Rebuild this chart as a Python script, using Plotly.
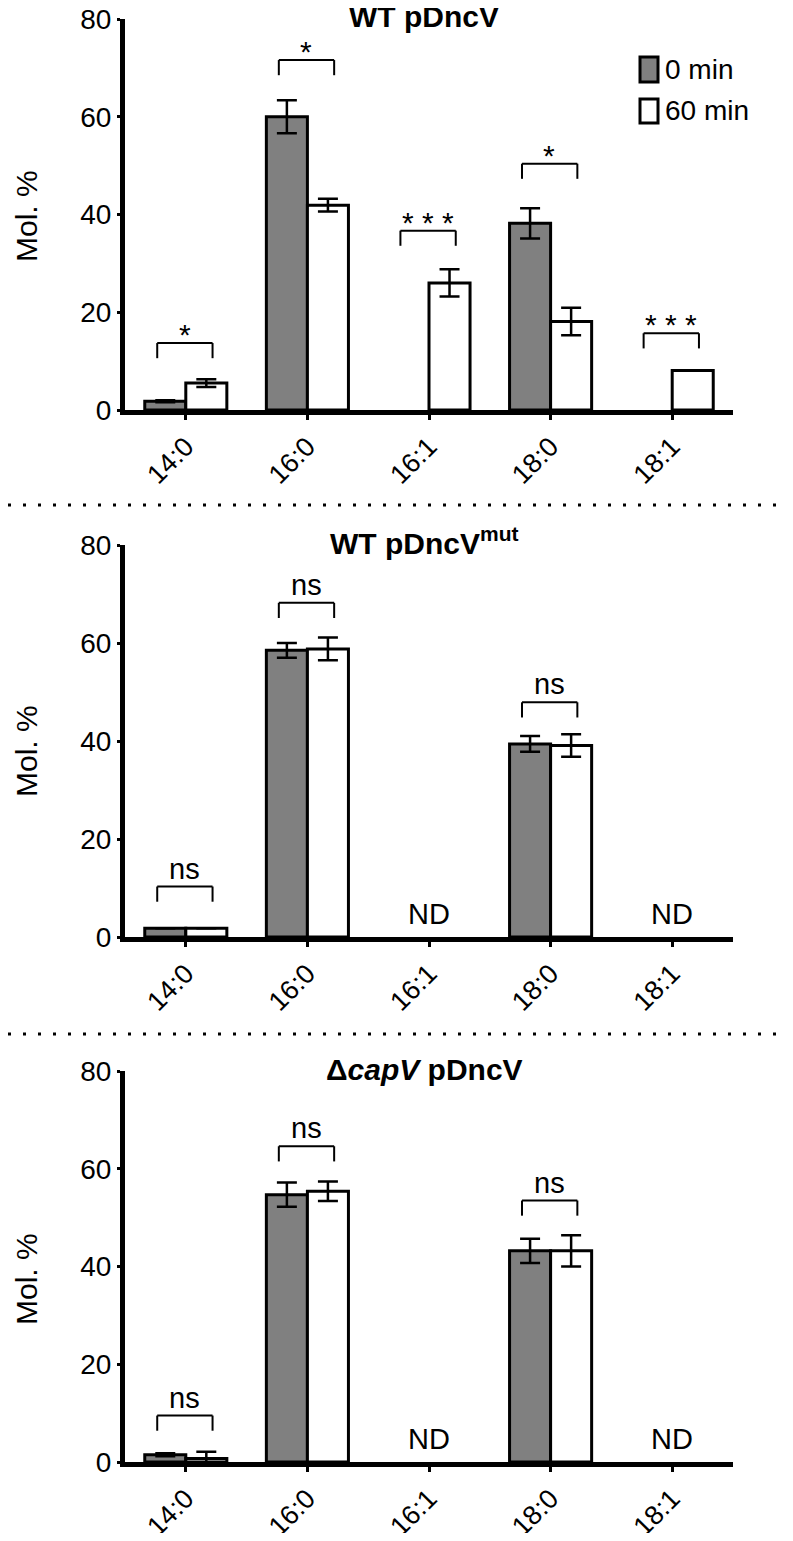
import plotly.graph_objects as go

# ---------------- data ----------------
categories = ["14:0", "16:0", "16:1", "18:0", "18:1"]
series_names = ["0 min", "60 min"]

# Panel 1: WT pDncV
p1_0min = [1.8, 60.0, None, 38.2, None]
p1_0min_err = [0.2, 3.4, None, 3.1, None]
p1_60min = [5.5, 41.9, 26.0, 18.1, 8.1]
p1_60min_err = [0.8, 1.3, 2.8, 2.8, 0]
p1_sig_top = [13.7, 71.6, 36.7, 50.4, 15.7]
p1_sig_text = ["*", "*", "* * *", "*", "* * *"]
p1_nd = [None, None, None, None, None]

# Panel 2: WT pDncV(mut)
p2_0min = [1.8, 58.5, None, 39.4, None]
p2_0min_err = [0, 1.5, None, 1.6, None]
p2_60min = [1.8, 58.8, None, 39.1, None]
p2_60min_err = [0, 2.3, None, 2.3, None]
p2_sig_top = [10.3, 68.2, None, 47.9, None]
p2_sig_text = ["ns", "ns", None, "ns", None]
p2_nd = [None, None, "ND", None, "ND"]

# Panel 3: delta capV pDncV
p3_0min = [1.5, 54.7, None, 43.2, None]
p3_0min_err = [0.3, 2.5, None, 2.5, None]
p3_60min = [0.7, 55.4, None, 43.2, None]
p3_60min_err = [1.4, 2.0, None, 3.2, None]
p3_sig_top = [9.5, 64.6, None, 53.5, None]
p3_sig_text = ["ns", "ns", None, "ns", None]
p3_nd = [None, None, "ND", None, "ND"]

titles = ["<b>WT pDncV</b>", "<b>WT pDncV<sup>mut</sup></b>", "<b>Δ<i>capV</i> pDncV</b>"]
y_ticks = [0, 20, 40, 60, 80]
y_label = "Mol. %"

# ---------------- layout helpers ----------------
# the page body has an 8px margin, so the figure is 16px smaller than the window
OFF = 8
W, H = 793 - 2 * OFF, 1541 - 2 * OFF
FONT = "Arial, Liberation Sans, Helvetica, sans-serif"
GRAY = "#808080"


def px_x(px):
    return (px - OFF) / W


def px_y(px):
    return 1 - (px - OFF) / H


# window-pixel geometry of the three panels (top = value 80, bottom = value 0)
panel_px = [(19, 410), (545, 937), (1071, 1462)]
title_px_y = [17, 541, 1069]
ylabel_px_y = [216, 751, 1279]
x_dom = [px_x(125), px_x(733)]

panels = [
    (p1_0min, p1_0min_err, p1_60min, p1_60min_err, p1_sig_top, p1_sig_text, p1_nd),
    (p2_0min, p2_0min_err, p2_60min, p2_60min_err, p2_sig_top, p2_sig_text, p2_nd),
    (p3_0min, p3_0min_err, p3_60min, p3_60min_err, p3_sig_top, p3_sig_text, p3_nd),
]

fig = go.Figure()
shapes = []
annotations = []

for i, (v0, e0, v60, e60, sig_top, sig_text, nd) in enumerate(panels):
    n = "" if i == 0 else str(i + 1)
    xa, ya = "x" + n, "y" + n
    for vals, errs, fill, name in [(v0, e0, GRAY, series_names[0]), (v60, e60, "white", series_names[1])]:
        fig.add_trace(go.Bar(
            x=categories, y=vals, name=name, xaxis=xa, yaxis=ya,
            marker=dict(color=fill, line=dict(color="black", width=3)),
            error_y=dict(type="data", array=errs, color="black", thickness=2.5, width=10),
            showlegend=False,
        ))
    top, bot = panel_px[i]
    fig.layout["xaxis" + n] = dict(
        domain=x_dom, anchor=ya, type="category", categoryorder="array", categoryarray=categories,
        range=[-0.5, 4.5], showline=True, linewidth=5, linecolor="black", showgrid=False,
        zeroline=False, ticks="outside", ticklen=5, tickwidth=3, tickcolor="black",
        tickangle=-45, tickfont=dict(family=FONT, size=27, color="black"), automargin=False,
        ticklabeloverflow="allow",
    )
    fig.layout["yaxis" + n] = dict(
        domain=[px_y(bot), px_y(top)], anchor=xa, range=[0, 80], tickvals=y_ticks,
        showline=True, linewidth=5, linecolor="black", showgrid=False, zeroline=False,
        ticks="outside", ticklen=3, tickwidth=3, tickcolor="black",
        tickfont=dict(family=FONT, size=28, color="black"), automargin=False,
        ticklabeloverflow="allow",
    )
    # significance brackets and labels
    for c, (h, t) in enumerate(zip(sig_top, sig_text)):
        if h is None:
            continue
        xl, xr = c - 0.235, c + 0.22
        leg = 3.1
        for (x0, y0, x1, y1) in [(xl, h - leg, xl, h), (xl, h, xr, h), (xr, h, xr, h - leg)]:
            shapes.append(dict(type="line", xref=xa, yref=ya, x0=x0, y0=y0, x1=x1, y1=y1,
                               line=dict(color="black", width=2)))
        is_star = "*" in t
        annotations.append(dict(
            x=c - 0.01, y=h, xref=xa, yref=ya, text=t, showarrow=False,
            yanchor="bottom", yshift=-10 if is_star else 0,
            font=dict(family=FONT, size=30 if is_star else 29, color="black"),
        ))
    for c, t in enumerate(nd):
        if t is None:
            continue
        annotations.append(dict(
            x=c, y=0, xref=xa, yref=ya, text=t, showarrow=False, yanchor="bottom", yshift=5,
            font=dict(family=FONT, size=29, color="black"),
        ))
    # panel title
    annotations.append(dict(
        x=px_x(424), y=px_y(title_px_y[i]), xref="paper", yref="paper", text=titles[i],
        showarrow=False, xanchor="center", yanchor="middle",
        font=dict(family=FONT, size=30, color="black"),
    ))
    # y-axis label
    annotations.append(dict(
        x=px_x(26), y=px_y(ylabel_px_y[i]), xref="paper", yref="paper", text=y_label,
        showarrow=False, textangle=-90, xanchor="center", yanchor="middle",
        font=dict(family=FONT, size=30, color="black"),
    ))

# dotted separators between panels
for sep in [505, 1034]:
    shapes.append(dict(type="line", xref="paper", yref="paper", x0=0, x1=1,
                       y0=px_y(sep), y1=px_y(sep),
                       line=dict(color="black", width=3, dash="3px,12px")))

# legend (top right of first panel)
legend_items = [(series_names[0], GRAY, 57, 82), (series_names[1], "white", 99, 123)]
for name, fill, t, b in legend_items:
    shapes.append(dict(type="rect", xref="paper", yref="paper",
                       x0=px_x(640), x1=px_x(658), y0=px_y(b), y1=px_y(t),
                       fillcolor=fill, line=dict(color="black", width=3)))
    annotations.append(dict(x=px_x(663), y=px_y((t + b) / 2), xref="paper", yref="paper",
                            text=name, showarrow=False, xanchor="left", yanchor="middle",
                            font=dict(family=FONT, size=28, color="black")))

fig.update_layout(
    width=W, height=H, margin=dict(l=0, r=0, t=0, b=0, autoexpand=False),
    paper_bgcolor="white", plot_bgcolor="white", template="none",
    barmode="group", bargap=0.325, bargroupgap=0,
    showlegend=False, shapes=shapes, annotations=annotations,
    font=dict(family=FONT, color="black"),
)

fig.write_html("out.html")
